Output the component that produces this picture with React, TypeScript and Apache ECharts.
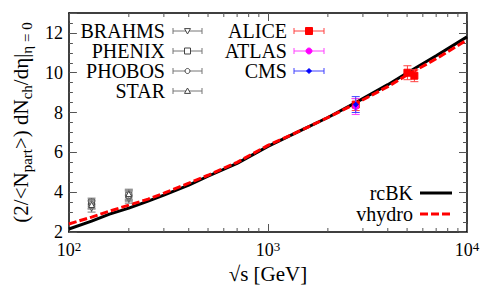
import React, { useEffect, useRef } from "react";
import * as echarts from "echarts";

const FONT = "Liberation Serif";

// Curves (sqrt(s) in GeV vs. (2/<Npart>) dNch/deta)
const curveEnergy = [100, 130, 160, 200, 250, 300, 400, 500, 700, 1000, 1500, 2000, 2760, 4000, 5020, 7000, 10000];
const rcbkValues = [2.15, 2.55, 2.9, 3.2, 3.55, 3.85, 4.35, 4.8, 5.45, 6.3, 7.15, 7.75, 8.5, 9.4, 10.0, 10.85, 11.8];
const vhydroValues = [2.4, 2.75, 3.05, 3.35, 3.65, 3.95, 4.45, 4.85, 5.5, 6.35, 7.15, 7.75, 8.45, 9.3, 9.9, 10.7, 11.65];

// Data points
const brahmsEnergy = [130, 200];
const brahmsValues = [3.2, 3.65];
const brahmsErrors = [0.2, 0.2];

const phenixEnergy = [130, 200];
const phenixValues = [3.5, 3.85];
const phenixErrors = [0.2, 0.25];

const phobosEnergy = [130, 200];
const phobosValues = [3.4, 3.8];
const phobosErrors = [0.2, 0.25];

const starEnergy = [130, 200];
const starValues = [3.35, 3.9];
const starErrors = [0.2, 0.25];

const aliceEnergy = [2760, 5020, 5440];
const aliceValues = [8.4, 10.0, 9.85];
const aliceErrors = [0.3, 0.35, 0.3];

const atlasEnergy = [2760];
const atlasValues = [8.3];
const atlasErrors = [0.4];

const cmsEnergy = [2760];
const cmsValues = [8.4];
const cmsErrors = [0.4];

// Axis ticks
const yTickValues = [2, 4, 6, 8, 10, 12];
const xMinorTicks = [200, 300, 400, 500, 600, 700, 800, 900, 2000, 3000, 4000, 5000, 6000, 7000, 8000, 9000];

type MarkerKind = "square" | "circle" | "triangle" | "triangleDown" | "diamond";

function marker(kind: MarkerKind, cx: number, cy: number, s: number, color: string, filled: boolean): any {
  const style = filled
    ? { fill: color, stroke: color, lineWidth: 1 }
    : { fill: "#ffffff", stroke: color, lineWidth: 1 };
  const h = s / 2;
  switch (kind) {
    case "square":
      return { type: "rect", shape: { x: cx - h, y: cy - h, width: s, height: s }, style };
    case "circle":
      return { type: "circle", shape: { cx, cy, r: h }, style };
    case "triangle":
      return {
        type: "polygon",
        shape: { points: [[cx, cy - h], [cx + h, cy + h * 0.8], [cx - h, cy + h * 0.8]] },
        style,
      };
    case "triangleDown":
      return {
        type: "polygon",
        shape: { points: [[cx, cy + h], [cx + h, cy - h * 0.8], [cx - h, cy - h * 0.8]] },
        style,
      };
    default:
      return {
        type: "polygon",
        shape: { points: [[cx, cy - h], [cx + h, cy], [cx, cy + h], [cx - h, cy]] },
        style,
      };
  }
}

function errorBarSeries(
  name: string,
  energy: number[],
  values: number[],
  errors: number[],
  kind: MarkerKind,
  lineColor: string,
  markerColor: string,
  filled: boolean,
  size: number
): any {
  return {
    type: "custom",
    name,
    xAxisIndex: 0,
    yAxisIndex: 0,
    z: 5,
    data: energy.map((e, i) => [e, values[i], values[i] - errors[i], values[i] + errors[i]]),
    encode: { x: 0, y: [1, 2, 3] },
    renderItem: (_params: any, api: any) => {
      const c = api.coord([api.value(0), api.value(1)]);
      const lo = api.coord([api.value(0), api.value(2)]);
      const hi = api.coord([api.value(0), api.value(3)]);
      const cap = 4;
      return {
        type: "group",
        children: [
          { type: "line", shape: { x1: c[0], y1: lo[1], x2: c[0], y2: hi[1] }, style: { stroke: lineColor, lineWidth: 1 } },
          { type: "line", shape: { x1: c[0] - cap, y1: lo[1], x2: c[0] + cap, y2: lo[1] }, style: { stroke: lineColor, lineWidth: 1 } },
          { type: "line", shape: { x1: c[0] - cap, y1: hi[1], x2: c[0] + cap, y2: hi[1] }, style: { stroke: lineColor, lineWidth: 1 } },
          marker(kind, c[0], c[1], size, markerColor, filled),
        ],
      };
    },
  };
}

function legendText(label: string, xRight: number, y: number): any {
  return {
    type: "text",
    x: xRight,
    y,
    style: {
      text: label,
      fontSize: 20,
      fontFamily: FONT,
      fill: "#000",
      align: "right",
      verticalAlign: "middle",
    },
  };
}

function legendErrorItem(
  label: string,
  xRight: number,
  x1: number,
  x2: number,
  y: number,
  kind: MarkerKind,
  lineColor: string,
  markerColor: string,
  filled: boolean,
  size: number
): any[] {
  const cap = 3;
  return [
    legendText(label, xRight, y),
    { type: "line", shape: { x1, y1: y, x2, y2: y }, style: { stroke: lineColor, lineWidth: 1 } },
    { type: "line", shape: { x1, y1: y - cap, x2: x1, y2: y + cap }, style: { stroke: lineColor, lineWidth: 1 } },
    { type: "line", shape: { x1: x2, y1: y - cap, x2, y2: y + cap }, style: { stroke: lineColor, lineWidth: 1 } },
    marker(kind, (x1 + x2) / 2, y, size, markerColor, filled),
  ];
}

const GREY_LINE = "#777777";
const GREY_MARK = "#444444";

const forceSerifCss = `
#root svg text, #root svg tspan {
  font-family: "Liberation Serif", "Times New Roman", serif !important;
}
`;

export default function App() {
  const ref = useRef<HTMLDivElement>(null);

  useEffect(() => {
    if (!ref.current) return;
    const chart = echarts.init(ref.current, undefined, { renderer: "svg" });

    const supRich = {
      b: { fontSize: 18, fontFamily: FONT, color: "#000", lineHeight: 20 },
      sup: { fontSize: 13, fontFamily: FONT, color: "#000", lineHeight: 13, verticalAlign: "top" },
    };

    const yNameRich = {
      m: { fontSize: 21, fontFamily: FONT, color: "#000", lineHeight: 26 },
      s: { fontSize: 15, fontFamily: FONT, color: "#000", lineHeight: 15, verticalAlign: "bottom" },
    };

    const tickColor = "#555";

    const option: any = {
      animation: false,
      textStyle: { fontFamily: FONT },
      grid: { left: 63, right: 18, top: 13, bottom: 59 },
      xAxis: [
        {
          type: "log",
          logBase: 10,
          min: 100,
          max: 10000,
          position: "bottom",
          name: "√s [GeV]",
          nameLocation: "middle",
          nameGap: 28,
          nameTextStyle: { fontSize: 21, fontFamily: FONT, color: "#000" },
          axisLine: { show: true, onZero: false, lineStyle: { color: "#000", width: 1.5 } },
          axisTick: { show: true, inside: true, length: 8, lineStyle: { color: tickColor, width: 1 } },
          splitLine: { show: false },
          axisLabel: {
            margin: 8,
            fontFamily: FONT,
            formatter: (v: number) => "{b|10}{sup|" + Math.round(Math.log10(v)) + "}",
            rich: supRich,
          },
        },
        {
          type: "log",
          logBase: 10,
          min: 100,
          max: 10000,
          position: "top",
          axisLine: { show: true, onZero: false, lineStyle: { color: "#000", width: 1.5 } },
          axisTick: { show: true, inside: true, length: 8, lineStyle: { color: tickColor, width: 1 } },
          axisLabel: { show: false },
          splitLine: { show: false },
        },
      ],
      yAxis: [
        {
          type: "value",
          min: 2,
          max: 13,
          interval: 2,
          position: "left",
          name: "{m|(2/<N}{s|part}{m|>) dN}{s|ch}{m|/dη}|{s|η = 0}",
          nameLocation: "middle",
          nameRotate: 90,
          nameGap: 17,
          nameTextStyle: { rich: yNameRich, fontSize: 21, fontFamily: FONT, color: "#000", lineHeight: 26 },
          axisLine: { show: true, onZero: false, lineStyle: { color: "#000", width: 1.5 } },
          axisTick: { show: true, inside: true, length: 8, lineStyle: { color: tickColor, width: 1 } },
          minorTick: { show: true, splitNumber: 4, length: 4, lineStyle: { color: tickColor, width: 1 } },
          splitLine: { show: false },
          axisLabel: {
            showMaxLabel: false,
            margin: 6,
            fontSize: 18,
            fontFamily: FONT,
            color: "#000",
            formatter: (v: number) => (yTickValues.includes(v) ? String(v) : ""),
          },
        },
        {
          type: "value",
          min: 2,
          max: 13,
          interval: 2,
          position: "right",
          axisLine: { show: true, onZero: false, lineStyle: { color: "#000", width: 1.5 } },
          axisTick: { show: true, inside: true, length: 8, lineStyle: { color: tickColor, width: 1 } },
          minorTick: { show: true, splitNumber: 4, length: 4, lineStyle: { color: tickColor, width: 1 } },
          splitLine: { show: false },
          axisLabel: { show: false },
        },
      ],
      series: [
        {
          type: "custom",
          name: "minorTicksX",
          xAxisIndex: 0,
          yAxisIndex: 0,
          silent: true,
          data: xMinorTicks.map((v) => [v, 2]),
          encode: { x: 0, y: 1 },
          renderItem: (params: any, api: any) => {
            const p = api.coord([api.value(0), api.value(1)]);
            const cs = params.coordSys;
            return {
              type: "group",
              children: [
                { type: "line", shape: { x1: p[0], y1: cs.y + cs.height, x2: p[0], y2: cs.y + cs.height - 4 }, style: { stroke: tickColor, lineWidth: 1 } },
                { type: "line", shape: { x1: p[0], y1: cs.y, x2: p[0], y2: cs.y + 4 }, style: { stroke: tickColor, lineWidth: 1 } },
              ],
            };
          },
        },
        {
          type: "line",
          name: "rcBK",
          xAxisIndex: 0,
          yAxisIndex: 0,
          data: curveEnergy.map((e, i) => [e, rcbkValues[i]]),
          showSymbol: false,
          smooth: false,
          lineStyle: { color: "#000", width: 3 },
          z: 3,
        },
        {
          type: "line",
          name: "vhydro",
          xAxisIndex: 0,
          yAxisIndex: 0,
          data: curveEnergy.map((e, i) => [e, vhydroValues[i]]),
          showSymbol: false,
          smooth: false,
          lineStyle: { color: "#ff0000", width: 3, type: [8, 3] },
          z: 4,
        },
        errorBarSeries("BRAHMS", brahmsEnergy, brahmsValues, brahmsErrors, "triangleDown", GREY_LINE, GREY_MARK, false, 6),
        errorBarSeries("PHENIX", phenixEnergy, phenixValues, phenixErrors, "square", GREY_LINE, GREY_MARK, false, 6),
        errorBarSeries("PHOBOS", phobosEnergy, phobosValues, phobosErrors, "circle", GREY_LINE, GREY_MARK, false, 5),
        errorBarSeries("STAR", starEnergy, starValues, starErrors, "triangle", GREY_LINE, GREY_MARK, false, 6),
        errorBarSeries("ALICE", aliceEnergy, aliceValues, aliceErrors, "square", "#ff4040", "#ff0000", true, 7),
        errorBarSeries("ATLAS", atlasEnergy, atlasValues, atlasErrors, "circle", "#ff40ff", "#ff00ff", true, 6),
        errorBarSeries("CMS", cmsEnergy, cmsValues, cmsErrors, "diamond", "#4040ff", "#0000ff", true, 5),
      ],
      graphic: [
        ...legendErrorItem("BRAHMS", 165, 173, 202, 31, "triangleDown", GREY_LINE, GREY_MARK, false, 6),
        ...legendErrorItem("PHENIX", 165, 173, 202, 51, "square", GREY_LINE, GREY_MARK, false, 6),
        ...legendErrorItem("PHOBOS", 165, 173, 202, 71, "circle", GREY_LINE, GREY_MARK, false, 5),
        ...legendErrorItem("STAR", 165, 173, 202, 91, "triangle", GREY_LINE, GREY_MARK, false, 6),
        ...legendErrorItem("ALICE", 287, 294, 324, 31, "square", "#ff4040", "#ff0000", true, 7),
        ...legendErrorItem("ATLAS", 287, 294, 324, 51, "circle", "#ff40ff", "#ff00ff", true, 6),
        ...legendErrorItem("CMS", 287, 294, 324, 71, "diamond", "#4040ff", "#0000ff", true, 5),
        legendText("rcBK", 413, 193),
        { type: "line", shape: { x1: 420, y1: 193, x2: 452, y2: 193 }, style: { stroke: "#000", lineWidth: 3 } },
        legendText("vhydro", 413, 214),
        {
          type: "line",
          shape: { x1: 420, y1: 214, x2: 452, y2: 214 },
          style: { stroke: "#ff0000", lineWidth: 3, lineDash: [8, 3] },
        },
      ],
    };

    chart.setOption(option);
    return () => chart.dispose();
  }, []);

  return (
    <div>
      <style>{forceSerifCss}</style>
      <div
        ref={ref}
        style={{ position: "fixed", left: 0, top: 0, width: 485, height: 291, background: "#fff" }}
      />
    </div>
  );
}
